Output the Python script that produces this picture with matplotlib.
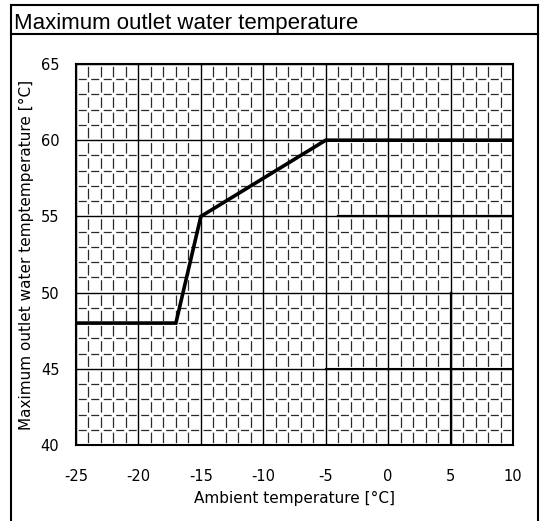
import matplotlib
matplotlib.use("Agg")
import matplotlib.pyplot as plt
from matplotlib.lines import Line2D
import numpy as np

plt.rcParams["axes.unicode_minus"] = False
plt.rcParams["lines.scale_dashes"] = False

# Data
ambient = [-25, -17, -15, -5, 10]
max_outlet = [48, 48, 55, 60, 60]
x_ticks = [-25, -20, -15, -10, -5, 0, 5, 10]
y_ticks = [40, 45, 50, 55, 60, 65]

title = "Maximum outlet water temperature"
xlabel = "Ambient temperature [°C]"
ylabel = "Maximum outlet water temptemperature [°C]"

W, H = 544, 521
fig = plt.figure(figsize=(W / 100, H / 100), dpi=100)
L, R, T, B = 76, 513, 64, 445
ax = fig.add_axes([L / W, 1 - B / H, (R - L) / W, (B - T) / H])

ax.set_xlim(x_ticks[0], x_ticks[-1])
ax.set_ylim(y_ticks[0], y_ticks[-1])

# minor dashed grid (gaps centred on the crossings)
px = 0.72  # points per pixel
cw = (R - L) / (x_ticks[-1] - x_ticks[0])
ch = (B - T) / (y_ticks[-1] - y_ticks[0])
h_on, h_off = 8 * px, (cw - 8) * px
v_on, v_off = 10.5 * px, (ch - 10.5) * px
for y in np.arange(y_ticks[0] + 1, y_ticks[-1]):
    if y % 5:
        ax.axhline(y, color="#2a2a2a", lw=0.9,
                   linestyle=(h_on + h_off / 2, (h_on, h_off)), zorder=1)
for x in np.arange(x_ticks[0] + 1, x_ticks[-1]):
    if x % 5:
        ax.axvline(x, color="#2a2a2a", lw=0.9,
                   linestyle=(v_on + v_off / 2, (v_on, v_off)), zorder=1)

ax.set_xticks(x_ticks)
ax.set_yticks(y_ticks)
ax.grid(which="major", color="black", linestyle="-", linewidth=1.0, zorder=1.2)
ax.set_axisbelow(True)
ax.tick_params(which="both", length=0)
ax.tick_params(axis="x", pad=17, labelsize=10.5)
ax.tick_params(axis="y", pad=12, labelsize=10.5)
for s in ax.spines.values():
    s.set_linewidth(1.5)
    s.set_color("black")

# darker grid segments seen in the original
ax.plot([-4, 10], [55, 55], color="black", lw=1.6, zorder=1.5)
ax.plot([-5, 10], [45, 45], color="black", lw=1.5, zorder=1.5)
ax.plot([5, 5], [40, 50], color="black", lw=1.6, zorder=1.5)

ax.plot(ambient, max_outlet, color="black", lw=2.6, solid_joinstyle="miter", zorder=3)

ax.set_xlabel(xlabel, fontsize=11, labelpad=5)
ax.set_ylabel(ylabel, fontsize=11, labelpad=5)

# outer frame and title
lw = 1.5
fl, fr, ft, fs = 11 / W, 538 / W, 1 - 5 / H, 1 - 34 / H
fig.add_artist(Line2D([fl, fl], [0, ft], transform=fig.transFigure, color="black", lw=lw))
fig.add_artist(Line2D([fr, fr], [0, ft], transform=fig.transFigure, color="black", lw=lw))
fig.add_artist(Line2D([fl, fr], [ft, ft], transform=fig.transFigure, color="black", lw=lw))
fig.add_artist(Line2D([fl, fr], [fs, fs], transform=fig.transFigure, color="black", lw=lw))
fig.text(14 / W, 1 - 29 / H, title, fontsize=16, family="Liberation Sans",
         va="baseline", ha="left")

fig.savefig("out.png", dpi=100)
